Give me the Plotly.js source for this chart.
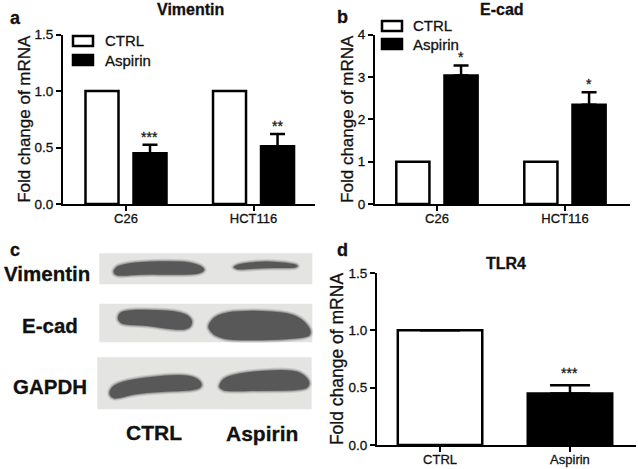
<!DOCTYPE html>
<html>
<head>
<meta charset="utf-8">
<script src="https://cdn.plot.ly/plotly-3.0.1.min.js"></script>
<style>
html, body { margin: 0; padding: 0; background: #fff; }
/* the reference text is a bit heavier than plain regular */
#chart text { stroke: #111; stroke-width: 0.3px; }
</style>
</head>
<body>
<div id="chart" style="width:638px;height:469px;"></div>
<script>
const cellLines = ['C26', 'HCT116'];
const groups = ['CTRL', 'Aspirin'];

const vimCtrl = [1, 1];
const vimAsp = [0.45, 0.51];
const vimErr = [0.075, 0.11];

const ecadCtrl = [1, 1];
const ecadAsp = [3.03, 2.34];
const ecadErr = [0.24, 0.3];

const tlrVals = [1, 0.45];
const tlrErr = [0, 0.07];

const vimStars = ['***', '**'];
const ecadStars = ['*', '*'];
const tlrStars = ['', '***'];

const W = 638, H = 469;
const font = 'Liberation Sans, Arial, sans-serif';
const ink = '#111';

// pixel helpers, the whole figure has zero margins
const fx = v => v / W;
const fy = v => 1 - v / H;

function barTrace(x, y, name, fill, xa, ya, err) {
    let t = {
        type: 'bar', x: x, y: y, name: name, xaxis: xa, yaxis: ya,
        marker: { color: fill, line: { color: '#000', width: 2.5 } },
        showlegend: false
    };
    if (err) {
        t.error_y = {
            type: 'data', symmetric: false, array: err.vals, arrayminus: err.vals.map(() => 0),
            color: '#000', thickness: 2.5, width: err.cap
        };
    }
    return t;
}

let traces = [
    barTrace(cellLines, vimCtrl, groups[0], '#fff', 'x', 'y', null),
    barTrace(cellLines, vimAsp, groups[1], '#000', 'x', 'y', { vals: vimErr, cap: 7.5 }),
    barTrace(cellLines, ecadCtrl, groups[0], '#fff', 'x2', 'y2', null),
    barTrace(cellLines, ecadAsp, groups[1], '#000', 'x2', 'y2', { vals: ecadErr, cap: 7.5 }),
    barTrace(groups, tlrVals, 'TLR4', ['#fff', '#000'], 'x3', 'y3', { vals: tlrErr, cap: 20 })
];
traces[4].width = 0.65;

function xAxis(left, right, range, anchor) {
    return {
        domain: [fx(left), fx(right)], range: range, type: 'category', anchor: anchor,
        showline: true, linecolor: '#000', linewidth: 2, showgrid: false, zeroline: false,
        ticks: 'outside', ticklen: 5, tickwidth: 2, tickcolor: '#000', ticklabelstandoff: -4,
        tickfont: { family: font, size: 13, color: ink }, fixedrange: true
    };
}

function yAxis(top, bottom, range, dtick, fmt, anchor, titleSize) {
    return {
        domain: [fy(bottom), fy(top)], range: range, dtick: dtick, tickformat: fmt, anchor: anchor,
        showline: true, linecolor: '#000', linewidth: 2, showgrid: false, zeroline: false,
        ticks: 'outside', ticklen: 5, tickwidth: 2, tickcolor: '#000',
        tickfont: { family: font, size: 13.5, color: ink }, fixedrange: true,
        title: { text: 'Fold change of mRNA', standoff: 0, font: { family: font, size: titleSize, color: ink } }
    };
}

function label(text, x, y, size, bold, anchor) {
    return {
        text: bold ? '<b>' + text + '</b>' : text, xref: 'paper', yref: 'paper', x: fx(x), y: fy(y),
        xanchor: anchor || 'center', yanchor: 'middle', showarrow: false,
        font: { family: font, size: size, color: ink }
    };
}

function starNotes(xs, tops, errs, stars, xa, ya) {
    return xs.map((c, i) => ({
        text: stars[i], x: i + 0.1875, y: tops[i] + errs[i], xref: xa, yref: ya,
        yanchor: 'bottom', showarrow: false, yshift: -2,
        font: { family: font, size: 14, color: '#222' }
    })).filter(a => a.text);
}

let annotations = [
    label('Vimentin', 190, 9, 16, true),
    label('E-cad', 502, 9, 16, true),
    label('TLR4', 506, 263, 16, true),
    label('a', 15, 18, 18, true),
    label('b', 342, 17, 18, true),
    label('c', 15, 250, 18, true),
    label('d', 342, 250, 18, true),
    label('Vimentin', 47, 273, 20.5, true),
    label('E-cad', 50, 325, 20.5, true),
    label('GAPDH', 50, 386, 20.5, true),
    label('CTRL', 154, 432, 21, true),
    label('Aspirin', 262, 433, 21, true),
    label(groups[0], 103, 41, 15, false, 'left'),
    label(groups[1], 103, 60, 15, false, 'left'),
    label(groups[0], 411, 25, 15, false, 'left'),
    label(groups[1], 411, 44, 15, false, 'left')
].concat(
    starNotes(cellLines, vimAsp, vimErr, vimStars, 'x', 'y'),
    starNotes(cellLines, ecadAsp, ecadErr, ecadStars, 'x2', 'y2')
);
annotations.push({
    text: tlrStars[1], x: 1, y: tlrVals[1] + tlrErr[1], xref: 'x3', yref: 'y3',
    yanchor: 'bottom', showarrow: false, yshift: 2, font: { family: font, size: 14, color: '#222' }
});

// western blot panel: outlines traced in the 3x crop of panel c
const blotRects = [
    [298, 55, 937, 148],
    [298, 206, 937, 322],
    [292, 367, 935, 523]
];
const blotBands = [
    [[340, 105], [355, 90], [420, 80], [540, 78], [590, 85], [618, 103], [600, 117], [540, 120], [430, 118], [360, 124], [342, 118]],
    [[700, 95], [720, 85], [800, 78], [880, 85], [897, 93], [880, 100], [800, 98], [720, 105], [703, 100]],
    [[352, 245], [365, 226], [450, 223], [550, 230], [580, 255], [570, 282], [530, 286], [440, 272], [370, 270], [355, 258]],
    [[622, 270], [650, 238], [720, 226], [850, 230], [905, 248], [938, 290], [920, 312], [700, 318], [650, 306], [630, 290]],
    [[326, 470], [345, 445], [420, 428], [540, 418], [590, 426], [610, 450], [590, 467], [480, 470], [400, 478], [350, 492], [332, 487]],
    [[656, 450], [675, 423], [760, 408], [880, 403], [920, 423], [932, 450], [910, 467], [780, 467], [680, 470], [660, 462]]
];

const blotX = v => fx(v / 3);
const blotY = v => fy(235 + v / 3);

function smoothPath(pts) {
    const mid = (a, b) => [(a[0] + b[0]) / 2, (a[1] + b[1]) / 2];
    const xy = p => blotX(p[0]) + ',' + blotY(p[1]);
    let start = mid(pts[pts.length - 1], pts[0]);
    let d = 'M' + xy(start);
    pts.forEach((p, i) => {
        d += ' Q' + xy(p) + ' ' + xy(mid(p, pts[(i + 1) % pts.length]));
    });
    return d + ' Z';
}

let shapes = blotRects.map(r => ({
    type: 'rect', xref: 'paper', yref: 'paper', layer: 'below',
    x0: blotX(r[0]), x1: blotX(r[2]), y0: blotY(r[1]), y1: blotY(r[3]),
    fillcolor: '#e4e4e2', line: { width: 0 }
}));
// soft edge: wide faint strokes under the dark band
blotBands.forEach(b => {
    [[5, 0.14], [3, 0.2], [1.5, 0.3]].forEach(s => {
        shapes.push({
            type: 'path', xref: 'paper', yref: 'paper', path: smoothPath(b),
            fillcolor: 'rgba(0,0,0,0)', line: { color: 'rgba(80,80,80,' + s[1] + ')', width: s[0] }
        });
    });
    shapes.push({
        type: 'path', xref: 'paper', yref: 'paper', path: smoothPath(b),
        fillcolor: '#585858', line: { width: 0 }
    });
});

// legend swatches, same size as the reference keys
const keyBoxes = [
    [73, 36, 93, 46], [73, 55, 93, 65],
    [382, 21, 402, 31], [382, 39, 402, 49]
];
keyBoxes.forEach((k, i) => {
    shapes.push({
        type: 'rect', xref: 'paper', yref: 'paper',
        x0: fx(k[0]), x1: fx(k[2]), y0: fy(k[1]), y1: fy(k[3]),
        fillcolor: i % 2 ? '#000' : '#fff', line: { color: '#000', width: 2.5 }
    });
});

let layout = {
    width: W, height: H,
    margin: { l: 0, r: 0, t: 0, b: 0 },
    paper_bgcolor: '#fff', plot_bgcolor: 'rgba(0,0,0,0)',
    barmode: 'group', bargap: 0.247, bargroupgap: 0.3125,
    showlegend: false,
    font: { family: font, color: ink },
    // axis lines sit 1px outside the domain, so the domains start 1px in
    xaxis: xAxis(63, 315, [-0.494, 1.482], 'y'),
    yaxis: yAxis(34.5, 204, [0, 1.5], 0.5, '.1f', 'x', 17),
    xaxis2: xAxis(375, 630, [-0.484, 1.508], 'y2'),
    yaxis2: yAxis(34.5, 204, [0, 4], 1, 'd', 'x2', 17),
    xaxis3: xAxis(377, 636, [-0.485, 1.508], 'y3'),
    yaxis3: yAxis(273, 445, [0, 1.5], 0.5, '.1f', 'x3', 17.5),
    annotations: annotations,
    shapes: shapes
};

Plotly.newPlot('chart', traces, layout, { displayModeBar: false, staticPlot: true });
</script>
</body>
</html>
